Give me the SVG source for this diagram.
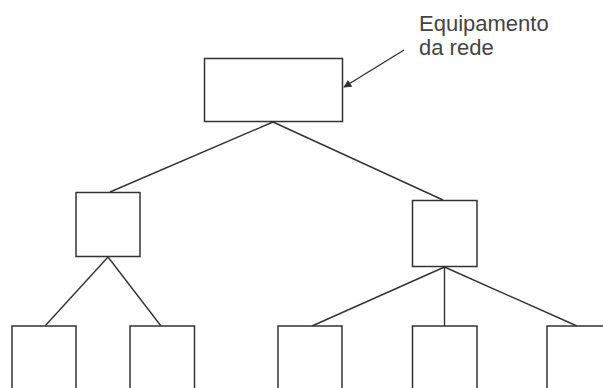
<svg xmlns="http://www.w3.org/2000/svg" width="603" height="388" viewBox="0 0 603 388">
  <style>
    .box { fill: #ffffff; stroke: #333333; stroke-width: 1.5; }
    .link { fill: none; stroke: #333333; stroke-width: 1.4; }
    .label { font-family: "Liberation Sans", Arial, sans-serif; font-size: 22px; fill: #444444; }
  </style>
  <defs>
    <marker id="arrowhead" viewBox="0 0 10 10" refX="9" refY="5" markerWidth="8" markerHeight="8" markerUnits="userSpaceOnUse" orient="auto">
      <path d="M0,0 L10,5 L0,10 z" fill="#333333"/>
    </marker>
  </defs>

  <rect width="603" height="388" fill="#ffffff"/>

  <!-- connectors -->
  <g id="connectors">
    <line class="link" x1="273" y1="122" x2="110" y2="192"/>
    <line class="link" x1="273" y1="122" x2="443" y2="200"/>
    <line class="link" x1="108" y1="257" x2="45" y2="326"/>
    <line class="link" x1="108" y1="257" x2="161" y2="326"/>
    <line class="link" x1="444.5" y1="267" x2="312" y2="326"/>
    <line class="link" x1="444.5" y1="267" x2="444.5" y2="326"/>
    <line class="link" x1="444.5" y1="267" x2="577" y2="326"/>
    <line class="link" x1="404" y1="50" x2="344" y2="87" marker-end="url(#arrowhead)"/>
  </g>

  <!-- root equipment -->
  <g id="root">
    <rect class="box" x="204.5" y="58.5" width="138" height="63"/>
  </g>

  <!-- second level -->
  <g id="mid-left">
    <rect class="box" x="76" y="192.5" width="64" height="64"/>
  </g>
  <g id="mid-right">
    <rect class="box" x="412.5" y="200.5" width="64.5" height="66"/>
  </g>

  <!-- leaves (cut off at the bottom edge) -->
  <g id="leaf-1">
    <rect class="box" x="12" y="326" width="64" height="80"/>
  </g>
  <g id="leaf-2">
    <rect class="box" x="130" y="326" width="64.5" height="80"/>
  </g>
  <g id="leaf-3">
    <rect class="box" x="278" y="326" width="64" height="80"/>
  </g>
  <g id="leaf-4">
    <rect class="box" x="412.5" y="326" width="64.5" height="80"/>
  </g>
  <g id="leaf-5">
    <rect class="box" x="547" y="326" width="80" height="80"/>
  </g>

  <!-- annotation -->
  <g id="note">
    <text class="label" x="419" y="31">Equipamento</text>
    <text class="label" x="419" y="55">da rede</text>
  </g>
</svg>
